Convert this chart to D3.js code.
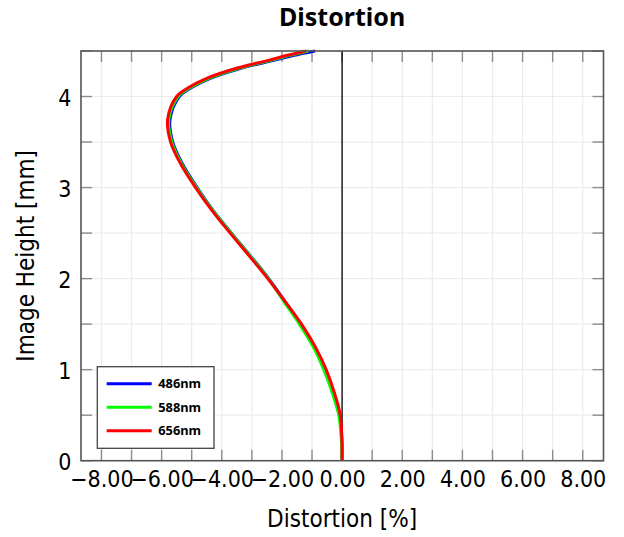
<!DOCTYPE html>
<html>
<head>
<meta charset="utf-8">
<script src="https://cdn.jsdelivr.net/npm/d3@7"></script>
<style>
  body { margin: 0; background: #fff; }
  svg { display: block; }
  .cm { font-family: "DejaVu Sans Condensed", "DejaVu Sans", sans-serif; font-stretch: condensed; }
</style>
</head>
<body>
<div id="chart"></div>
<script>
// image height [mm]
const heights = [0, 0.25, 0.5, 0.75, 1.0, 1.25, 1.5, 1.75, 2.0, 2.25, 2.5, 2.75, 3.0, 3.25, 3.5, 3.75, 4.0, 4.1, 4.2, 4.3, 4.4, 4.45, 4.5];

// distortion [%] per wavelength
const dist486 = [0, -0.01, -0.08, -0.29, -0.57, -0.92, -1.38, -1.9, -2.44, -3.05, -3.68, -4.29, -4.82, -5.29, -5.63, -5.72, -5.41, -5.0, -4.38, -3.47, -2.24, -1.63, -0.9];
const dist588 = [0, -0.03, -0.11, -0.33, -0.61, -0.96, -1.42, -1.94, -2.45, -3.06, -3.69, -4.3, -4.84, -5.32, -5.66, -5.76, -5.45, -5.04, -4.43, -3.54, -2.34, -1.77, -1.12];
const dist656 = [0, -0.01, -0.06, -0.26, -0.53, -0.89, -1.35, -1.9, -2.47, -3.09, -3.72, -4.33, -4.87, -5.35, -5.7, -5.8, -5.5, -5.1, -4.5, -3.62, -2.42, -1.85, -1.2];

const seriesNames = ["486nm", "588nm", "656nm"];
const seriesColors = ["#0000ff", "#00ff00", "#ff0000"];

const xTicks = [-8, -6, -4, -2, 0, 2, 4, 6, 8];
const xMinor = d3.range(-8, 9, 1);
const yTicks = [0, 1, 2, 3, 4];
const yMinor = d3.range(0, 4.51, 0.5);

const width = 624, height = 537;
const margin = { top: 51, right: 20.5, bottom: 76.3, left: 81 };
const iw = width - margin.left - margin.right;
const ih = height - margin.top - margin.bottom;

const svg = d3.select("#chart").append("svg")
  .attr("width", width)
  .attr("height", height);

const x = d3.scaleLinear().domain([-8.68, 8.69]).range([0, iw]);
const y = d3.scaleLinear().domain([0, 4.5]).range([ih, 0]);

const g = svg.append("g").attr("transform", `translate(${margin.left},${margin.top})`);

// grid
g.append("g").selectAll("line").data(xMinor).join("line")
  .attr("x1", d => x(d)).attr("x2", d => x(d))
  .attr("y1", 0).attr("y2", ih)
  .attr("stroke", "#ececec").attr("stroke-width", 1.2);
g.append("g").selectAll("line").data(yMinor).join("line")
  .attr("y1", d => y(d)).attr("y2", d => y(d))
  .attr("x1", 0).attr("x2", iw)
  .attr("stroke", "#ececec").attr("stroke-width", 1.2);

// inward ticks on all sides
const tl = 11;
const ticks = g.append("g").attr("stroke", "#8c8c8c").attr("stroke-width", 1.4);
xMinor.forEach(d => {
  ticks.append("line").attr("x1", x(d)).attr("x2", x(d)).attr("y1", ih).attr("y2", ih - tl);
  ticks.append("line").attr("x1", x(d)).attr("x2", x(d)).attr("y1", 0).attr("y2", tl);
});
yMinor.forEach(d => {
  ticks.append("line").attr("y1", y(d)).attr("y2", y(d)).attr("x1", 0).attr("x2", tl);
  ticks.append("line").attr("y1", y(d)).attr("y2", y(d)).attr("x1", iw).attr("x2", iw - tl);
});

// zero line
g.append("line")
  .attr("x1", x(0)).attr("x2", x(0)).attr("y1", 0).attr("y2", ih)
  .attr("stroke", "#000").attr("stroke-width", 1.3);

// curves
const series = [dist486, dist588, dist656];
const line = d3.line()
  .x(d => x(d[0]))
  .y(d => y(d[1]))
  .curve(d3.curveCatmullRom.alpha(0.5));

series.forEach((s, i) => {
  g.append("path")
    .datum(s.map((v, k) => [v, heights[k]]))
    .attr("fill", "none")
    .attr("stroke", seriesColors[i])
    .attr("stroke-width", 3)
    .attr("d", line);
});

// frame
g.append("rect")
  .attr("width", iw).attr("height", ih)
  .attr("fill", "none").attr("stroke", "#555").attr("stroke-width", 1.6);

// axes labels
const xAxis = d3.axisBottom(x).tickValues(xTicks).tickSize(0).tickPadding(0)
  .tickFormat(d => d3.format(".2f")(d).replace("-", "\u2212"));
const xa = g.append("g").attr("transform", `translate(0,${ih})`).call(xAxis);
xa.select(".domain").remove();
xa.selectAll("text")
  .attr("dy", null).attr("y", 26.3).attr("class", "cm")
  .style("font-size", "23px").attr("fill", "#000");

const yAxis = d3.axisLeft(y).tickValues(yTicks).tickSize(0).tickPadding(9.5)
  .tickFormat(d3.format("d"));
const ya = g.append("g").call(yAxis);
ya.select(".domain").remove();
ya.selectAll("text")
  .attr("dy", "0.37em").attr("class", "cm")
  .style("font-size", "23px").attr("fill", "#000");

svg.append("text")
  .attr("class", "cm")
  .attr("x", margin.left + x(0)).attr("y", 527)
  .attr("text-anchor", "middle")
  .style("font-size", "24px")
  .text("Distortion [%]");

svg.append("text")
  .attr("class", "cm")
  .attr("transform", `translate(34,${margin.top + ih / 2}) rotate(-90)`)
  .attr("text-anchor", "middle")
  .style("font-size", "24px")
  .text("Image Height [mm]");

svg.append("text")
  .attr("x", margin.left + x(0)).attr("y", 26)
  .attr("text-anchor", "middle")
  .style("font-family", "Noto Sans").style("font-weight", "bold").style("font-size", "25px")
  .text("Distortion");

// legend
const lg = svg.append("g").attr("transform", "translate(97.3,366.7)");
lg.append("rect").attr("width", 116.7).attr("height", 81.6)
  .attr("fill", "#fff").attr("stroke", "#444").attr("stroke-width", 1.3);
seriesNames.forEach((n, i) => {
  const yy = 17 + i * 23.5;
  lg.append("line").attr("x1", 9.4).attr("x2", 54.4).attr("y1", yy).attr("y2", yy)
    .attr("stroke", seriesColors[i]).attr("stroke-width", 3);
  lg.append("text").attr("x", 61).attr("y", yy + 4.5)
    .style("font-family", "Noto Sans").style("font-weight", "bold").style("font-size", "12.8px")
    .text(n);
});
</script>
</body>
</html>
